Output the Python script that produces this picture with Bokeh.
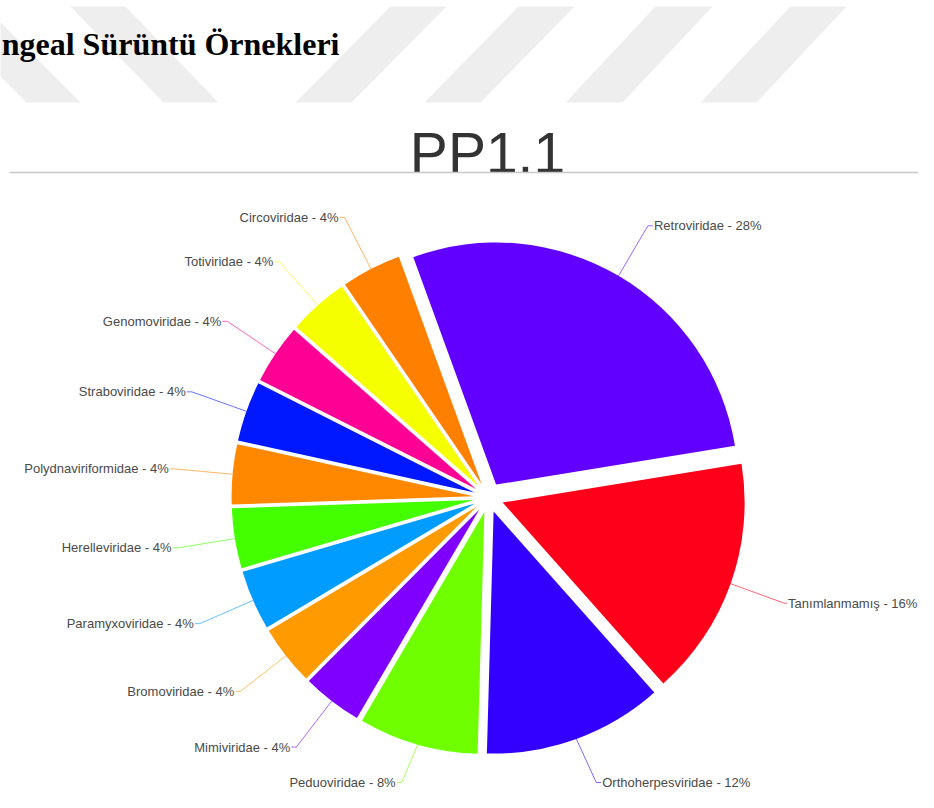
import math
from bokeh.plotting import figure
from bokeh.models import Range1d, ColumnDataSource
from bokeh.core.properties import value
from bokeh.embed import file_html
from bokeh.resources import INLINE

# ---------------- data ----------------
families = ["Retroviridae", "Tanımlanmamış", "Orthoherpesviridae", "Peduoviridae",
            "Mimiviridae", "Bromoviridae", "Paramyxoviridae", "Herelleviridae",
            "Polydnaviriformidae", "Straboviridae", "Genomoviridae", "Totiviridae",
            "Circoviridae"]
percents = [28, 16, 12, 8, 4, 4, 4, 4, 4, 4, 4, 4, 4]
colors = ["#6200ff", "#ff001a", "#3300ff", "#70ff00", "#8000ff", "#ff9a00",
          "#009cff", "#44ff00", "#ff8800", "#0018ff", "#ff0095", "#f5ff00",
          "#ff8000"]
title_text = "PP1.1"
heading_text = "ngeal Sürüntü Örnekleri"

# ---------------- layout (screen-pixel space) ----------------
W, H = 918, 792
def Y(sy):            # screen y (from top) -> data y
    return H - sy

CX, CY = 488.0, Y(497.0)
R = 242.0             # pie radius
D = 15.0              # explode offset of every slice
RL = 315.0            # label anchor radius
START = -20.0         # start angle, degrees clockwise from 12 o'clock
LABEL_MAX_SY = 782.0  # keep bottom labels inside the canvas
LABEL_PX = 13
CHAR_W = 0.52 * LABEL_PX   # rough average glyph width, to keep labels inside

p = figure(width=W, height=H, x_range=Range1d(0, W), y_range=Range1d(0, H),
           output_backend="svg", toolbar_location=None, min_border=0,
           x_axis_location=None, y_axis_location=None)
p.grid.visible = False
p.outline_line_color = None
p.background_fill_color = "white"

# watermark stripes (decoration)
stripes = [
    [(-70, 6), (-16, 6), (80, 102), (26, 102)],
    [(70, 6), (125, 6), (218, 102), (163, 102)],
    [(390, 6), (446, 6), (351, 102), (295, 102)],
    [(518, 6), (574, 6), (480, 102), (424, 102)],
    [(655, 6), (712, 6), (622, 102), (565, 102)],
    [(790, 6), (846, 6), (756, 102), (700, 102)],
]
p.patches(xs=[[pt[0] for pt in s] for s in stripes],
          ys=[[Y(pt[1]) for pt in s] for s in stripes],
          fill_color="#eeeeee", line_color=None)

# heading (cut off at left in the original)
p.text(x=[339], y=[Y(43)], text=[heading_text], text_font=value("Liberation Serif"),
       text_font_style="bold", text_font_size="32px", text_color="#000000",
       text_align="right", text_baseline="alphabetic")

# chart title
p.text(x=[487], y=[Y(152)], text=[title_text], text_font=value("Liberation Sans"),
       text_font_size="57px", text_color="#333333", text_align="center",
       text_baseline="alphabetic")
p.line(x=[9, W], y=[Y(172), Y(172)], line_color="#c8c8c8", line_width=1.5)

# ---------------- pie ----------------
total = float(sum(percents))
cx, cy, sa, ea = [], [], [], []
lx, ly, ltxt, lalign, lxs, lys = [], [], [], [], [], []
cum = 0.0
for name, v, c in zip(families, percents, colors):
    t1 = START + 360.0 * cum / total
    cum += v
    t2 = START + 360.0 * cum / total
    tm = math.radians((t1 + t2) / 2.0)
    ox = CX + D * math.sin(tm)
    oy = CY + D * math.cos(tm)
    cx.append(ox)
    cy.append(oy)
    sa.append(math.radians(90.0 - t2))
    ea.append(math.radians(90.0 - t1))
    label = f"{name} - {v}%"
    # connector
    px0 = ox + R * math.sin(tm)
    py0 = oy + R * math.cos(tm)
    ax = CX + RL * math.sin(tm)
    ay = max(CY + RL * math.cos(tm), Y(LABEL_MAX_SY))
    side = 1 if math.sin(tm) >= 0 else -1
    tx = ax + side * 5
    if side > 0:
        tx = min(tx, W - 3 - len(label) * CHAR_W)
        ax = min(ax, tx - 3)
    lxs.append([px0, ax, tx])
    lys.append([py0, ay, ay])
    lx.append(tx + side * 1)
    ly.append(ay)
    ltxt.append(label)
    lalign.append("left" if side > 0 else "right")

src = ColumnDataSource(dict(x=cx, y=cy, sa=sa, ea=ea, color=colors))
p.wedge(x="x", y="y", radius=R, start_angle="sa", end_angle="ea",
        direction="anticlock", fill_color="color", line_color=None, source=src)

p.multi_line(xs=lxs, ys=lys, line_color=colors, line_width=1, line_alpha=0.6)

lsrc = ColumnDataSource(dict(x=lx, y=ly, t=ltxt, a=lalign))
p.text(x="x", y="y", text="t", text_align="a", source=lsrc,
       text_font=value("Liberation Sans"), text_font_size=f"{LABEL_PX}px",
       text_color="#4a4a4a", text_baseline="middle")

open("out.html", "w").write(file_html(p, INLINE))
